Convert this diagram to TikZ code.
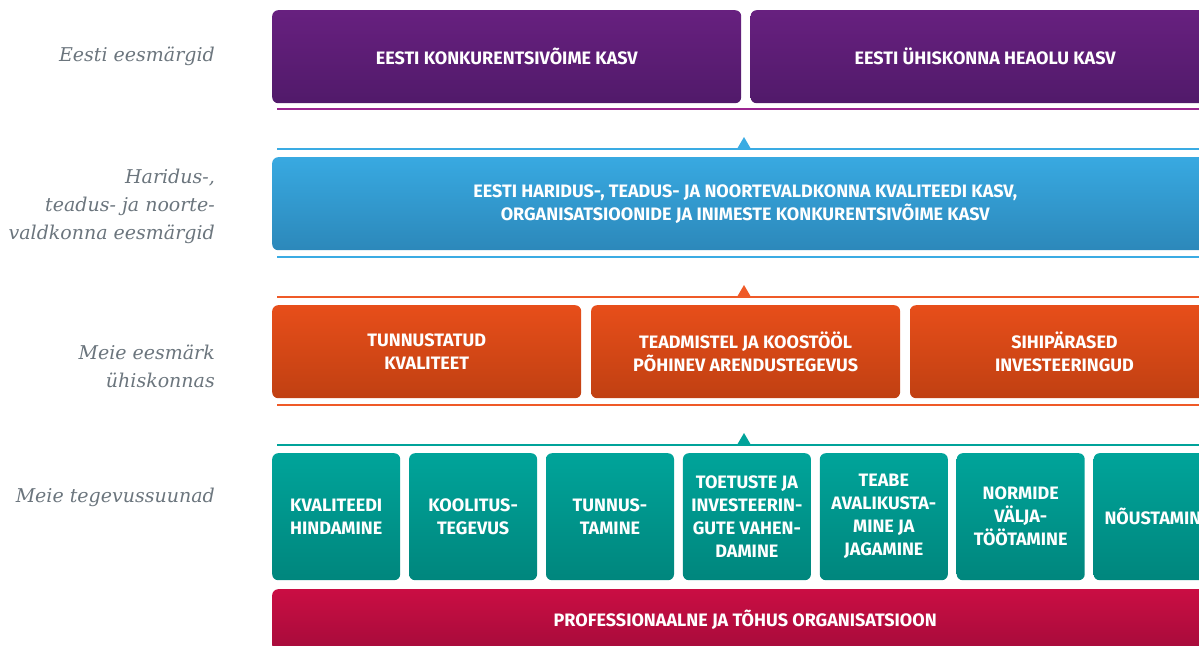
\documentclass[tikz,border=0pt]{standalone}
\usepackage{fontspec}
\newfontfamily\boxfont{Fira Sans}
\newfontfamily\sidefont{DejaVu Serif}
\usetikzlibrary{positioning}
\definecolor{purpleTop}{HTML}{67207F}
\definecolor{purpleBot}{HTML}{511A6A}
\definecolor{purpleLine}{HTML}{9B2590}
\definecolor{blueTop}{HTML}{38A9E1}
\definecolor{blueBot}{HTML}{2C88BA}
\definecolor{blueLine}{HTML}{3AABE3}
\definecolor{orangeTop}{HTML}{E74E1A}
\definecolor{orangeBot}{HTML}{C04012}
\definecolor{orangeLine}{HTML}{EF5A28}
\definecolor{tealTop}{HTML}{00A49A}
\definecolor{tealBot}{HTML}{00867D}
\definecolor{tealLine}{HTML}{00A39A}
\definecolor{redTop}{HTML}{CA0D43}
\definecolor{redBot}{HTML}{A60C3B}
\definecolor{sideGray}{HTML}{6B757D}

\begin{document}
\begin{tikzpicture}[
    x=1pt, y=-1pt,
    box/.style={rectangle, rounded corners=6pt, inner sep=0pt, anchor=north west,
        text=white, align=center, font=\boxfont\bfseries\fontsize{18}{23}\selectfont},
    goal/.style={box, top color=purpleTop, bottom color=purpleBot,
        minimum width=469pt, minimum height=93pt},
    field/.style={box, top color=blueTop, bottom color=blueBot,
        minimum width=946pt, minimum height=93pt},
    aim/.style={box, top color=orangeTop, bottom color=orangeBot,
        minimum width=309pt, minimum height=93pt},
    task/.style={box, top color=tealTop, bottom color=tealBot,
        minimum width=128pt, minimum height=127pt},
    base/.style={box, top color=redTop, bottom color=redBot,
        minimum width=946pt, minimum height=62pt},
    side/.style={anchor=east, align=right, text=sideGray, inner sep=0pt,
        font=\sidefont\itshape\fontsize{19}{28}\selectfont},
    bar/.style={line width=2.6pt}
]
\clip (0,0) rectangle (1199,645);

% left labels
\node (L1) [side] at (215,56) {Eesti eesmärgid};
\node (L2) [side] at (215,206) {Haridus-,\\teadus- ja noorte-\\valdkonna eesmärgid};
\node (L3) [side] at (215,366) {Meie eesmärk\\ühiskonnas};
\node (L4) [side] at (215,497) {Meie tegevussuunad};

% Eesti eesmärgid
\node (G1) [goal] at (272,10) {EESTI KONKURENTSIVÕIME KASV};
\node (G2) [goal, right=9pt of G1] {EESTI ÜHISKONNA HEAOLU KASV};
\draw[bar, purpleLine] (277,109) -- (1213,109);

% valdkonna eesmärgid
\draw[bar, blueLine] (277,149) -- (1213,149);
\fill[blueLine] (737,149) -- (744,137) -- (751,149) -- cycle;
\node (F1) [field] at (272,157) {EESTI HARIDUS-, TEADUS- JA NOORTEVALDKONNA KVALITEEDI KASV,\\ORGANISATSIOONIDE JA INIMESTE KONKURENTSIVÕIME KASV};
\draw[bar, blueLine] (277,257) -- (1213,257);

% meie eesmärk
\draw[bar, orangeLine] (277,297) -- (1213,297);
\fill[orangeLine] (737,297) -- (744,285) -- (751,297) -- cycle;
\node (A1) [aim] at (272,305) {TUNNUSTATUD\\KVALITEET};
\node (A2) [aim, right=9.5pt of A1] {TEADMISTEL JA KOOSTÖÖL\\PÕHINEV ARENDUSTEGEVUS};
\node (A3) [aim, right=9.5pt of A2] {SIHIPÄRASED\\INVESTEERINGUD};
\draw[bar, orangeLine] (277,405) -- (1213,405);

% tegevussuunad
\draw[bar, tealLine] (277,445) -- (1213,445);
\fill[tealLine] (737,445) -- (744,433) -- (751,445) -- cycle;
\node (T1) [task] at (272,453) {KVALITEEDI\\HINDAMINE};
\node (T2) [task, right=8.5pt of T1] {KOOLITUS-\\TEGEVUS};
\node (T3) [task, right=8.5pt of T2] {TUNNUS-\\TAMINE};
\node (T4) [task, right=8.5pt of T3] {TOETUSTE JA\\INVESTEERIN-\\GUTE VAHEN-\\DAMINE};
\node (T5) [task, right=8.5pt of T4] {TEABE\\AVALIKUSTA-\\MINE JA\\JAGAMINE};
\node (T6) [task, right=8.5pt of T5] {NORMIDE\\VÄLJA-\\TÖÖTAMINE};
\node (T7) [task, right=8.5pt of T6] {NÕUSTAMINE};

\node (B1) [base] at (272,589) {PROFESSIONAALNE JA TÕHUS ORGANISATSIOON};
\end{tikzpicture}
\end{document}
